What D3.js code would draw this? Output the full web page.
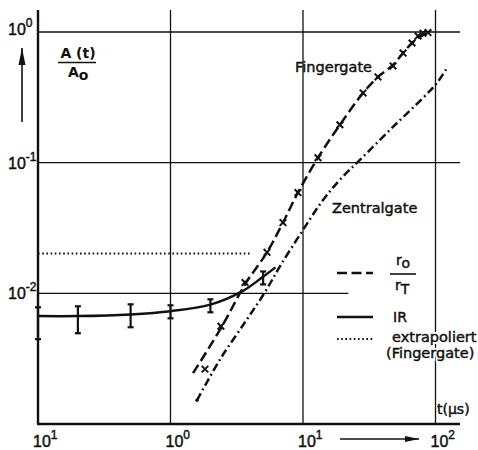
<!DOCTYPE html>
<html><head><meta charset="utf-8">
<script src="https://cdn.jsdelivr.net/npm/d3@7"></script>
<style>body{margin:0;background:#fff} svg{display:block}</style>
</head><body>
<script>
// ---- data ----
const xTickValues = [0.1, 1, 10, 100];
const xTickExponents = ["1", "0", "1", "2"];
const yTickValues = [1, 0.1, 0.01];
const yTickExponents = ["0", "-1", "-2"];

// IR (solid) curve
const irT = [0.1, 0.2, 0.5, 1.0, 2.0, 3.5, 4.9, 6.2];
const irA = [0.0067, 0.0067, 0.0069, 0.0073, 0.0082, 0.0104, 0.0132, 0.0158];
// IR error bars
const irErrT  = [0.1, 0.2, 0.5, 1.0, 2.0, 5.0];
const irErrLo = [0.00446, 0.00495, 0.0055, 0.00644, 0.00716, 0.0117];
const irErrHi = [0.00782, 0.00796, 0.00824, 0.0081, 0.009, 0.0147];

// r_o / r_T, Fingergate (dashed) curve
const fingerT = [1.48, 2.45, 3.65, 5.35, 7.06, 9.16, 12.97, 19.0, 28.4, 36.8, 47.8, 56.9, 66.5, 76.4, 87.7, 92.5];
const fingerA = [0.00245, 0.0056, 0.0117, 0.0206, 0.0348, 0.059, 0.109, 0.195, 0.342, 0.453, 0.56, 0.69, 0.824, 0.916, 0.99, 1.03];
// Fingergate measured points (x markers)
const fingerMarkT = [1.82, 2.40, 3.65, 5.35, 7.06, 9.16, 12.97, 19.0, 28.4, 36.8, 47.8, 56.9, 66.5, 73.8, 80.5, 87.7];
const fingerMarkA = [0.00263, 0.0056, 0.0121, 0.0206, 0.0348, 0.059, 0.109, 0.195, 0.342, 0.453, 0.55, 0.69, 0.824, 0.93, 0.98, 0.99];

// Zentralgate (dash-dot) curve
const zentralT = [1.585, 2.37, 3.78, 5.16, 6.70, 9.82, 13.9, 19.0, 26.9, 47.8, 80.5, 102.6, 122];
const zentralA = [0.00152, 0.00313, 0.00633, 0.0102, 0.0161, 0.0297, 0.0504, 0.0741, 0.105, 0.188, 0.313, 0.408, 0.531];

// extrapoliert (dotted)
const extrapT = [0.1, 4.1];
const extrapA = [0.0202, 0.0202];

// ---- drawing ----
const W = 478, H = 450;
const svg = d3.select("body").append("svg").attr("width", W).attr("height", H);
const x = d3.scaleLog().domain([0.1, 100]).range([38, 435.5]);
const y = d3.scaleLog().domain([0.001, 1]).range([424, 32]);
const ink = "#111";
const tickFont = "'Liberation Sans', Arial, sans-serif";
const labelFont = "'DejaVu Sans', sans-serif";
const heavy = s => s.attr("stroke", ink).attr("stroke-width", 0.45);

const defs = svg.append("defs");
defs.append("marker").attr("id", "arrR").attr("viewBox", "0 0 14 8").attr("refX", 14).attr("refY", 4)
  .attr("markerWidth", 14).attr("markerHeight", 8).attr("markerUnits", "userSpaceOnUse").attr("orient", "auto")
  .append("path").attr("d", "M0,1 L14,4 L0,7 Z").attr("fill", ink);
defs.append("marker").attr("id", "arrU").attr("viewBox", "0 0 17 8").attr("refX", 17).attr("refY", 4)
  .attr("markerWidth", 17).attr("markerHeight", 8).attr("markerUnits", "userSpaceOnUse").attr("orient", "auto")
  .append("path").attr("d", "M0,0.5 L17,4 L0,7.5 Z").attr("fill", ink);

// grid
const gridTop = 10, gridRight = 460;
const g = svg.append("g").attr("stroke", ink).attr("stroke-width", 1.3).attr("fill", "none");
xTickValues.slice(1).forEach(v => {
  g.append("line").attr("x1", x(v)).attr("x2", x(v)).attr("y1", gridTop).attr("y2", y(0.001));
});
yTickValues.forEach((v, i) => {
  const xEnd = v === 0.01 ? x(22) : gridRight;
  g.append("line").attr("x1", x(0.1)).attr("x2", xEnd).attr("y1", y(v)).attr("y2", y(v));
});
// axes
svg.append("line").attr("x1", x(0.1)).attr("x2", x(0.1)).attr("y1", gridTop).attr("y2", y(0.001))
  .attr("stroke", ink).attr("stroke-width", 2.4);
svg.append("line").attr("x1", x(0.1) - 1).attr("x2", gridRight).attr("y1", y(0.001)).attr("y2", y(0.001))
  .attr("stroke", ink).attr("stroke-width", 2.4);

// x tick labels
xTickValues.forEach((v, i) => {
  const t = svg.append("text").attr("x", x(v) - 5).attr("y", 447)
    .attr("font-family", tickFont).attr("font-size", 16).attr("fill", ink);
  heavy(t);
  t.append("tspan").text("10");
  t.append("tspan").attr("dy", -8).attr("font-size", 12).text(xTickExponents[i]);
});
// y tick labels
yTickValues.forEach((v, i) => {
  const t = svg.append("text").attr("x", 8).attr("y", y(v) + (i === 0 ? 3 : 6))
    .attr("font-family", tickFont).attr("font-size", 16).attr("fill", ink);
  heavy(t);
  t.append("tspan").text("10");
  t.append("tspan").attr("dy", -8).attr("font-size", 12).text(yTickExponents[i]);
});

// axis arrows
svg.append("line").attr("x1", 22).attr("x2", 22).attr("y1", 122).attr("y2", 48)
  .attr("stroke", ink).attr("stroke-width", 1.6).attr("marker-end", "url(#arrU)");
svg.append("line").attr("x1", 340).attr("x2", 419).attr("y1", 439).attr("y2", 439)
  .attr("stroke", ink).attr("stroke-width", 1.6).attr("marker-end", "url(#arrR)");

// y-axis label A(t)/A0
svg.append("text").attr("x", 78).attr("y", 58).attr("text-anchor", "middle")
  .attr("font-family", labelFont).attr("font-size", 14).attr("font-weight", "bold").attr("fill", ink).text("A (t)");
svg.append("line").attr("x1", 58).attr("x2", 96).attr("y1", 62.5).attr("y2", 62.5).attr("stroke", ink).attr("stroke-width", 1.6);
const a0 = svg.append("text").attr("x", 68).attr("y", 77).attr("font-family", labelFont)
  .attr("font-size", 14).attr("font-weight", "bold").attr("fill", ink);
a0.append("tspan").text("A");
a0.append("tspan").attr("dy", 3).text("o");

// t(µs) label
heavy(svg.append("text").attr("x", 437).attr("y", 414).attr("font-family", labelFont).attr("font-size", 14)
  .attr("fill", ink).text("t(µs)"));

// curves
const line = d3.line().x(d => x(d[0])).y(d => y(d[1])).curve(d3.curveCatmullRom.alpha(0.5));
const zip = (a, b) => a.map((v, i) => [v, b[i]]);

const dashStyle = "10,4.5";
const dashDotStyle = "8,3.5,1.8,3.5";
const lw = 2.5;

svg.append("path").datum(zip(extrapT, extrapA)).attr("d", line).attr("fill", "none")
  .attr("stroke", ink).attr("stroke-width", 2).attr("stroke-dasharray", "1.6,2.6");

svg.append("path").datum(zip(irT, irA)).attr("d", line).attr("fill", "none")
  .attr("stroke", ink).attr("stroke-width", lw);

svg.append("path").datum(zip(zentralT, zentralA)).attr("d", line).attr("fill", "none")
  .attr("stroke", ink).attr("stroke-width", lw).attr("stroke-dasharray", dashDotStyle);
// start dot of Zentralgate
svg.append("circle").attr("cx", x(zentralT[0])).attr("cy", y(zentralA[0])).attr("r", 1.7).attr("fill", ink);

svg.append("path").datum(zip(fingerT, fingerA)).attr("d", line).attr("fill", "none")
  .attr("stroke", ink).attr("stroke-width", lw).attr("stroke-dasharray", dashStyle);

// x markers
const sym = d3.symbol().type(d3.symbolX).size(30);
svg.append("g").selectAll("path").data(zip(fingerMarkT, fingerMarkA)).join("path")
  .attr("transform", d => `translate(${x(d[0])},${y(d[1])})`).attr("d", sym)
  .attr("fill", "none").attr("stroke", ink).attr("stroke-width", 2);

// IR error bars
const eb = svg.append("g").attr("stroke", ink).attr("stroke-width", 2.2);
irErrT.forEach((t, i) => {
  const cx = x(t);
  eb.append("line").attr("x1", cx).attr("x2", cx).attr("y1", y(irErrHi[i])).attr("y2", y(irErrLo[i]));
  eb.append("line").attr("x1", cx - 3).attr("x2", cx + 3).attr("y1", y(irErrHi[i])).attr("y2", y(irErrHi[i]));
  eb.append("line").attr("x1", cx - 3).attr("x2", cx + 3).attr("y1", y(irErrLo[i])).attr("y2", y(irErrLo[i]));
});

// curve labels
heavy(svg.append("text").attr("x", 295).attr("y", 72).attr("font-family", labelFont).attr("font-size", 14.5)
  .attr("fill", ink).text("Fingergate"));
heavy(svg.append("text").attr("x", 332).attr("y", 213).attr("font-family", labelFont).attr("font-size", 14.5)
  .attr("fill", ink).text("Zentralgate"));

// legend
const lx1 = 337, lx2 = 373;
svg.append("line").attr("x1", lx1).attr("x2", lx2).attr("y1", 273).attr("y2", 273)
  .attr("stroke", ink).attr("stroke-width", lw).attr("stroke-dasharray", dashStyle);
svg.append("line").attr("x1", lx1).attr("x2", lx2).attr("y1", 317).attr("y2", 317)
  .attr("stroke", ink).attr("stroke-width", lw);
svg.append("line").attr("x1", lx1).attr("x2", lx2).attr("y1", 339).attr("y2", 339)
  .attr("stroke", ink).attr("stroke-width", 2).attr("stroke-dasharray", "1.6,2.6");

const ro = heavy(svg.append("text").attr("x", 396).attr("y", 265).attr("font-family", labelFont)
  .attr("font-size", 14).attr("fill", ink));
ro.append("tspan").text("r");
ro.append("tspan").attr("dy", 3).text("o");
svg.append("line").attr("x1", 390).attr("x2", 416).attr("y1", 274).attr("y2", 274)
  .attr("stroke", ink).attr("stroke-width", 1.6);
const rt = heavy(svg.append("text").attr("x", 395).attr("y", 290).attr("font-family", labelFont)
  .attr("font-size", 14).attr("fill", ink));
rt.append("tspan").text("r");
rt.append("tspan").attr("dy", 4).text("T");

heavy(svg.append("text").attr("x", 393).attr("y", 322).attr("font-family", labelFont).attr("font-size", 14)
  .attr("fill", ink).text("IR"));
// white backing behind the two-line legend text
const haloText = (tx, ty, str) => {
  svg.append("text").attr("x", tx).attr("y", ty).attr("font-family", labelFont).attr("font-size", 14.5)
    .attr("fill", "#fff").attr("stroke", "#fff").attr("stroke-width", 4).text(str);
  heavy(svg.append("text").attr("x", tx).attr("y", ty).attr("font-family", labelFont).attr("font-size", 14.5)
    .attr("fill", ink).text(str));
};
haloText(392, 342, "extrapoliert");
haloText(386, 358, "(Fingergate)");
</script>
</body></html>
